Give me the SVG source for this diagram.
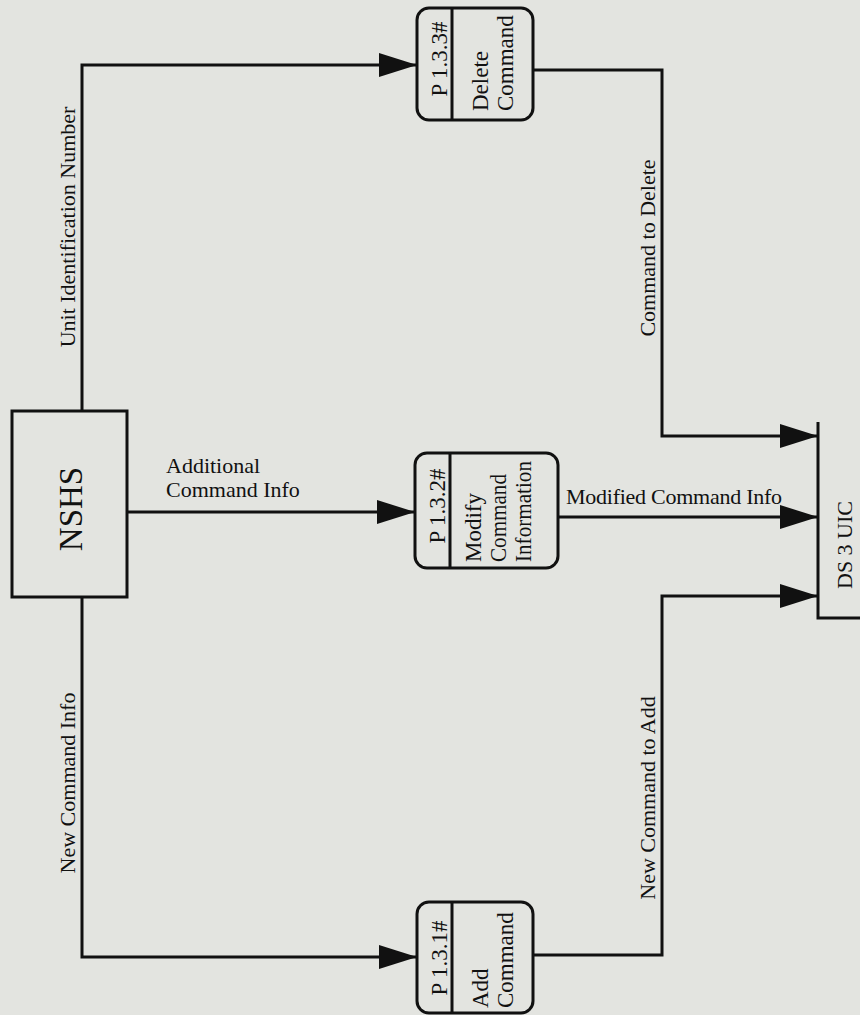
<svg xmlns="http://www.w3.org/2000/svg" width="860" height="1015" viewBox="0 0 860 1015">
<style>
.t{font-family:"Liberation Serif","Times New Roman",serif;font-size:22px;fill:#111}
.b{font-size:23px}
.big{font-size:33px}
.ln{fill:none;stroke:#111;stroke-width:3}
.bx{fill:none;stroke:#111;stroke-width:3}
</style>
<defs>
<marker id="ah" viewBox="0 0 38 24" refX="38" refY="12" markerWidth="38" markerHeight="24" markerUnits="userSpaceOnUse" orient="auto">
<path d="M0,0 L38,12 L0,24 Z" fill="#111"/>
</marker>
</defs>
<rect width="860" height="1015" fill="#e3e4e0"/>
<g id="connectors">
<path class="ln" d="M82,411 V65 H417" marker-end="url(#ah)"/>
<path class="ln" d="M127,512 H415" marker-end="url(#ah)"/>
<path class="ln" d="M82,597 V957 H417" marker-end="url(#ah)"/>
<path class="ln" d="M533,70 H662 V436 H818" marker-end="url(#ah)"/>
<path class="ln" d="M558,517 H818" marker-end="url(#ah)"/>
<path class="ln" d="M533,955 H662 V596 H818" marker-end="url(#ah)"/>
<text class="t" transform="translate(75,227) rotate(-90)" text-anchor="middle">Unit  Identification Number</text>
<text class="t" transform="translate(75,783) rotate(-90)" text-anchor="middle">New Command Info</text>
<text class="t" transform="translate(655,248) rotate(-90)" text-anchor="middle">Command to Delete</text>
<text class="t" transform="translate(655,798) rotate(-90)" text-anchor="middle">New Command to Add</text>
<text class="t" x="166" y="473">Additional</text>
<text class="t" x="166" y="497">Command Info</text>
<text class="t" x="566" y="504" textLength="216">Modified Command Info</text>
</g>
<g id="nshs">
<rect class="bx" x="12" y="411" width="115" height="186"/>
<text class="t big" transform="translate(82,509) rotate(-90)" text-anchor="middle">NSHS</text>
</g>
<g id="p133">
<rect class="bx" x="417" y="8" width="116" height="112" rx="12"/>
<line class="ln" x1="452" y1="8" x2="452" y2="120"/>
<text class="t b" transform="translate(447,59) rotate(-90)" text-anchor="middle">P 1.3.3#</text>
<text class="t b" transform="translate(488,111) rotate(-90)">Delete</text>
<text class="t b" transform="translate(513,111) rotate(-90)">Command</text>
</g>
<g id="p132">
<rect class="bx" x="415" y="453" width="143" height="115" rx="12"/>
<line class="ln" x1="450" y1="453" x2="450" y2="568"/>
<text class="t b" transform="translate(445,506) rotate(-90)" text-anchor="middle">P 1.3.2#</text>
<text class="t b" transform="translate(481,562) rotate(-90)">Modify</text>
<text class="t b" transform="translate(506,562) rotate(-90)" textLength="88" lengthAdjust="spacingAndGlyphs">Command</text>
<text class="t b" transform="translate(531,562) rotate(-90)" textLength="101" lengthAdjust="spacingAndGlyphs">Information</text>
</g>
<g id="p131">
<rect class="bx" x="417" y="902" width="116" height="111" rx="12"/>
<line class="ln" x1="452" y1="902" x2="452" y2="1013"/>
<text class="t b" transform="translate(447,958) rotate(-90)" text-anchor="middle">P 1.3.1#</text>
<text class="t b" transform="translate(488,1008) rotate(-90)">Add</text>
<text class="t b" transform="translate(513,1008) rotate(-90)">Command</text>
</g>
<g id="ds3">
<path class="ln" d="M818,422 V618 H860"/>
<text class="t" transform="translate(852,545) rotate(-90)" text-anchor="middle">DS 3 UIC</text>
</g>
</svg>
